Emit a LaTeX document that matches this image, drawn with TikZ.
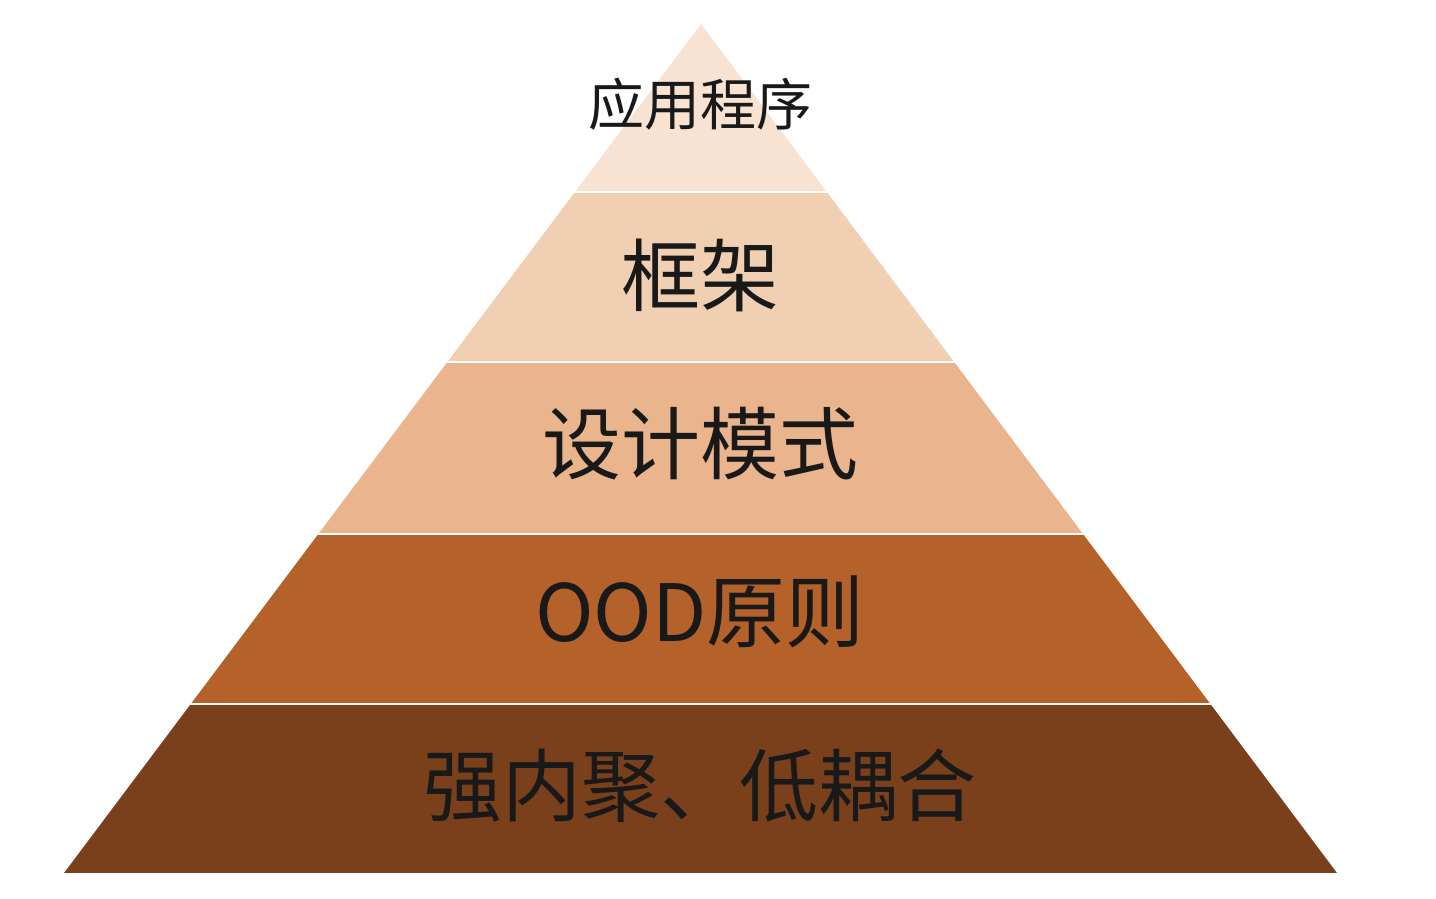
\documentclass[tikz,border=0pt]{standalone}
\usepackage{fontspec}
\newfontfamily\cjk{Noto Sans CJK SC}
\definecolor{layA}{HTML}{F8E3D3}
\definecolor{layB}{HTML}{F1CFB2}
\definecolor{layC}{HTML}{EAB48C}
\definecolor{layD}{HTML}{B5612A}
\definecolor{layE}{HTML}{7A401C}
\tikzset{
	lbl/.style={font=\cjk\fontsize{79}{90}\selectfont, text=black!90, inner sep=0pt},
	lbltop/.style={lbl, font=\cjk\fontsize{56}{64}\selectfont}
}
\begin{document}
\begin{tikzpicture}[x=1pt, y=-1pt, line join=round, line cap=round]
			\useasboundingbox (0,0) rectangle (1436,898);
			\begin{scope}
				\clip (701,24)--(1337,873)--(64,873)--cycle;
				\foreach \ya/\yb/\col in {24/192/layA,192/362/layB,362/534/layC,534/704/layD,704/873/layE}
				\fill[\col] (0,\ya) rectangle (1436,\yb);
				\foreach \y in {192,362,534,704}
				\draw[white, line width=2pt] (0,\y)--(1436,\y);
			\end{scope}
			\node[lbltop] (app) at (700,104) {应用程序};
			\node[lbl] (frame) at (700,275) {框架};
			\node[lbl] (pattern) at (700,444) {设计模式};
			\node[lbl] (ood) at (700,612) {OOD原则};
			\node[lbl] (coupling) at (700,786) {强内聚、低耦合};
		\end{tikzpicture}
\end{document}
